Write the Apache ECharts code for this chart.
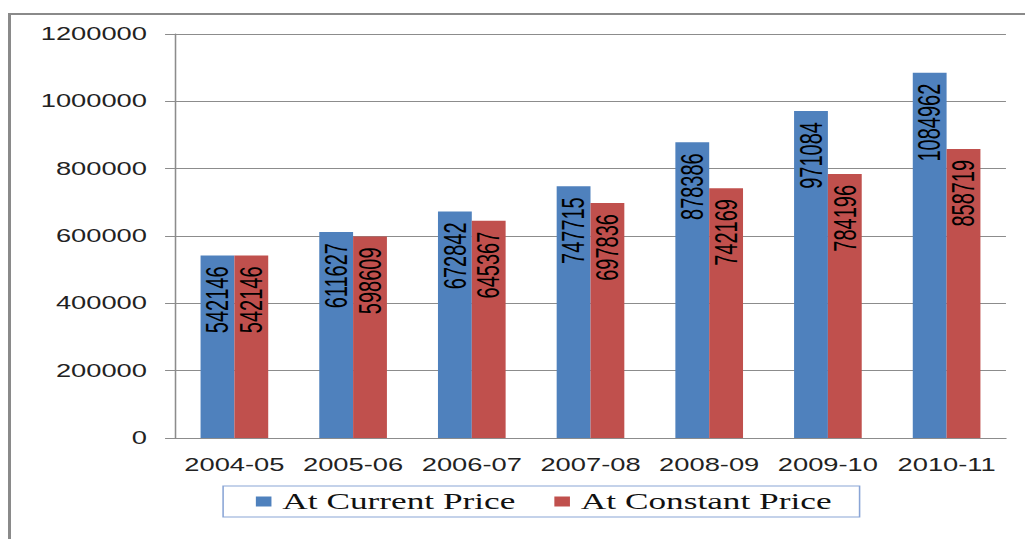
<!DOCTYPE html>
<html>
<head>
<meta charset="utf-8">
<title>At Current / Constant Price</title>
<script src="https://cdn.jsdelivr.net/npm/echarts@6/dist/echarts.min.js"></script>
<style>
  html, body { margin: 0; padding: 0; background: #fff; overflow: hidden; }
  body { width: 1025px; height: 539px; position: relative; }
  /* outer frame of the picture, only left and top edges are visible */
  .frame {
    position: absolute; left: 8px; top: 13px; width: 1100px; height: 600px;
    border-left: 3px solid #8a8a8a; border-top: 2px solid #8a8a8a;
  }
  /* the source picture is stretched sideways, so the chart is too */
  .chart {
    position: absolute; left: 0; top: 0; width: 657px; height: 539px;
    transform: scaleX(1.5601); transform-origin: 0 0;
  }
</style>
</head>
<body>
<div class="frame"></div>
<div class="chart" id="chart"></div>
<script>
const years = ["2004-05", "2005-06", "2006-07", "2007-08", "2008-09", "2009-10", "2010-11"]
const currentPrice = [542146, 611627, 672842, 747715, 878386, 971084, 1084962]
const constantPrice = [542146, 598609, 645367, 697836, 742169, 784196, 858719]
const seriesNames = ["At Current Price", "At Constant Price"]

let barChart = null

const barLabel = {
  show: true,
  position: "insideTop",
  distance: 11,
  rotate: 90,
  align: "right",
  verticalAlign: "middle",
  color: "#000",
  fontFamily: "Liberation Sans, Arial, sans-serif",
  fontSize: 20
}

const _initChart = () => {
  barChart.setOption({
    animation: false,
    grid: { left: 112.2, right: 12.2, top: 34, bottom: 101 },
    legend: {
      data: seriesNames,
      left: 143,
      top: 486,
      icon: "rect",
      itemWidth: 10,
      itemHeight: 10,
      itemGap: 25,
      padding: [4, 18, 4, 21],
      borderColor: "#8aa5d6",
      borderWidth: 1,
      textStyle: {
        fontFamily: "Liberation Serif, Times New Roman, serif",
        fontSize: 22.6,
        color: "#111",
        padding: [0, 0, 0, 2]
      }
    },
    xAxis: {
      type: "category",
      data: years,
      axisLine: { lineStyle: { color: "#8c8c8c" } },
      axisTick: { length: 7, lineStyle: { color: "#8c8c8c" } },
      axisLabel: {
        interval: 0,
        margin: 18,
        color: "#222",
        fontFamily: "Liberation Sans, Arial, sans-serif",
        fontSize: 17.5
      }
    },
    yAxis: {
      type: "value",
      min: 0,
      max: 1200000,
      interval: 200000,
      axisLine: { show: true, lineStyle: { color: "#8c8c8c" } },
      axisTick: { show: true, length: 6.4, lineStyle: { color: "#8c8c8c" } },
      splitLine: { lineStyle: { color: "#8c8c8c" } },
      axisLabel: {
        margin: 18,
        color: "#222",
        fontFamily: "Liberation Sans, Arial, sans-serif",
        fontSize: 17.5,
        formatter: value => String(value)
      }
    },
    series: [
      {
        name: seriesNames[0],
        type: "bar",
        data: currentPrice,
        barGap: "0%",
        barCategoryGap: "43%",
        itemStyle: { color: "#4f81bd" },
        label: barLabel
      },
      {
        name: seriesNames[1],
        type: "bar",
        data: constantPrice,
        itemStyle: { color: "#c0504d" },
        label: barLabel
      }
    ]
  })
}

barChart = echarts.init(document.getElementById("chart"), null, { renderer: "svg" })
_initChart()
</script>
</body>
</html>
